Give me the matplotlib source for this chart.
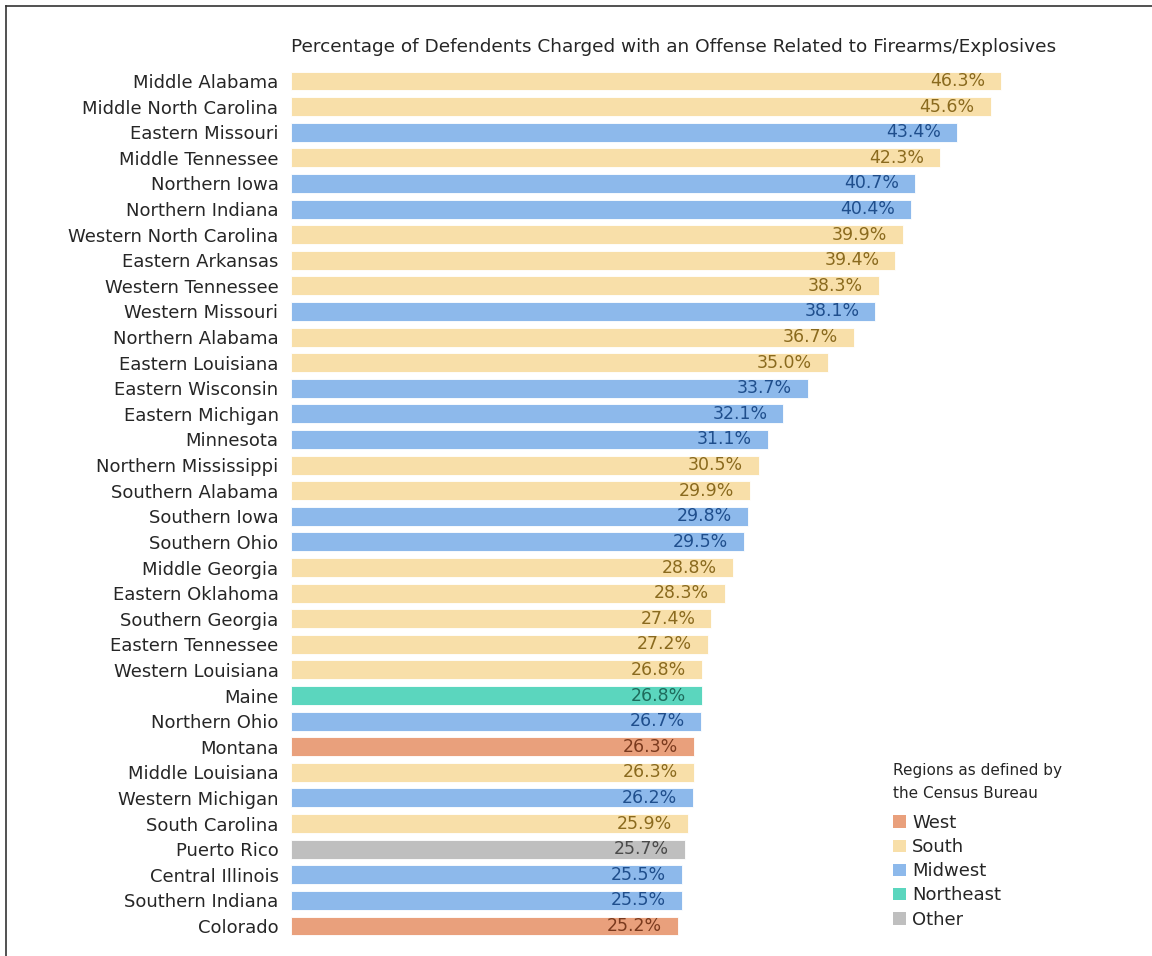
import matplotlib
matplotlib.use("Agg")
import matplotlib.pyplot as plt
from matplotlib.patches import Patch
from matplotlib.lines import Line2D

districts = ["Middle Alabama", "Middle North Carolina", "Eastern Missouri", "Middle Tennessee",
             "Northern Iowa", "Northern Indiana", "Western North Carolina", "Eastern Arkansas",
             "Western Tennessee", "Western Missouri", "Northern Alabama", "Eastern Louisiana",
             "Eastern Wisconsin", "Eastern Michigan", "Minnesota", "Northern Mississippi",
             "Southern Alabama", "Southern Iowa", "Southern Ohio", "Middle Georgia",
             "Eastern Oklahoma", "Southern Georgia", "Eastern Tennessee", "Western Louisiana",
             "Maine", "Northern Ohio", "Montana", "Middle Louisiana", "Western Michigan",
             "South Carolina", "Puerto Rico", "Central Illinois", "Southern Indiana", "Colorado"]
values = [46.3, 45.6, 43.4, 42.3, 40.7, 40.4, 39.9, 39.4, 38.3, 38.1, 36.7, 35.0, 33.7, 32.1,
          31.1, 30.5, 29.9, 29.8, 29.5, 28.8, 28.3, 27.4, 27.2, 26.8, 26.8, 26.7, 26.3, 26.3,
          26.2, 25.9, 25.7, 25.5, 25.5, 25.2]
regions = ["South", "South", "Midwest", "South", "Midwest", "Midwest", "South", "South",
           "South", "Midwest", "South", "South", "Midwest", "Midwest", "Midwest", "South",
           "South", "Midwest", "Midwest", "South", "South", "South", "South", "South",
           "Northeast", "Midwest", "West", "South", "Midwest", "South", "Other", "Midwest",
           "Midwest", "West"]
legend_order = ["West", "South", "Midwest", "Northeast", "Other"]

bar_colors = {"West": "#E9A07C", "South": "#F8DFA9", "Midwest": "#8DB9EB",
              "Northeast": "#5BD6BE", "Other": "#BFBFBF"}
text_colors = {"West": "#7A3A1E", "South": "#8A6A1E", "Midwest": "#1F4E8C",
               "Northeast": "#1E6B5C", "Other": "#4A4A4A"}

plt.rcParams['font.family'] = ['DejaVu Sans']

fig = plt.figure(figsize=(11.52, 9.56), dpi=100)
ax = fig.add_axes([291/1152, 1 - 938.8/956, (1058-291)/1152, (938.8-68.2)/956])

ypos = list(range(len(districts)))
ax.barh(ypos, values, height=0.74, color=[bar_colors[r] for r in regions],
        edgecolor='white', linewidth=0.6)
for y, v, r in zip(ypos, values, regions):
    ax.annotate(f"{v:.1f}%", xy=(v, y), xytext=(-11.5, 0), textcoords='offset points',
                ha='right', va='center', fontsize=12.5, color=text_colors[r])

ax.set_xlim(0, 50)
ax.set_ylim(len(districts) - 0.5, -0.5)
ax.set_yticks(ypos)
ax.set_yticklabels(districts, fontsize=13, color='#262626')
ax.tick_params(axis='y', length=0, pad=9)
ax.set_xticks([])
for s in ax.spines.values():
    s.set_visible(False)

fig.text(291/1152, 1 - 47/956, "Percentage of Defendents Charged with an Offense Related to Firearms/Explosives",
         ha='left', va='center', fontsize=13.3, color='#262626')

# legend
fig.text(893/1152, 1 - 770/956, "Regions as defined by", ha='left', va='center',
         fontsize=11, color='#262626')
fig.text(893/1152, 1 - 793/956, "the Census Bureau", ha='left', va='center',
         fontsize=11, color='#262626')
handles = [Patch(facecolor=bar_colors[r], edgecolor='none') for r in legend_order]
leg = fig.legend(handles, legend_order, loc='upper left',
                 bbox_to_anchor=(893/1152, 1 - 814/956), frameon=False,
                 fontsize=13, handlelength=0.7, handleheight=0.7, handletextpad=0.35,
                 labelspacing=0.34, borderaxespad=0, borderpad=0)
for t in leg.get_texts():
    t.set_color('#262626')

# frame lines (left and top)
fig.add_artist(Line2D([6/1152, 6/1152], [0, 1 - 6/956], transform=fig.transFigure,
                      color='#333333', linewidth=1.2))
fig.add_artist(Line2D([6/1152, 1], [1 - 6/956, 1 - 6/956], transform=fig.transFigure,
                      color='#333333', linewidth=1.2))

fig.savefig("out.png", dpi=100)
